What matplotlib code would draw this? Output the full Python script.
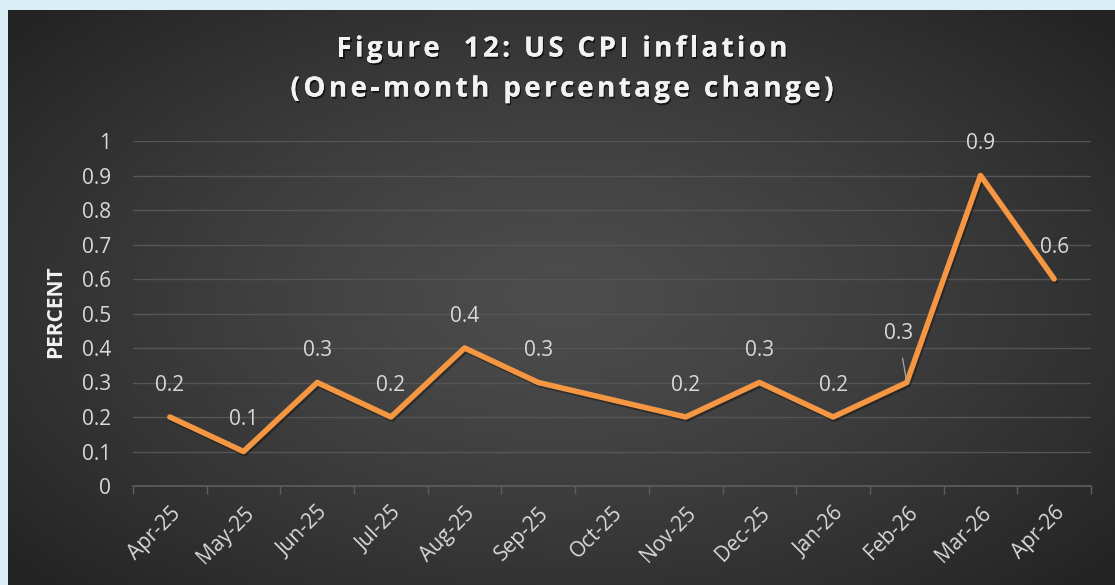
import numpy as np
import matplotlib
matplotlib.use('Agg')
import matplotlib.pyplot as plt
import matplotlib.patheffects as pe
from matplotlib.font_manager import FontProperties
from matplotlib.ticker import FixedLocator

# ── data ────────────────────────────────────────────────────────────────
months = ["Apr-25", "May-25", "Jun-25", "Jul-25", "Aug-25", "Sep-25", "Oct-25",
          "Nov-25", "Dec-25", "Jan-26", "Feb-26", "Mar-26", "Apr-26"]
cpi_mom = [0.2, 0.1, 0.3, 0.2, 0.4, 0.3, np.nan, 0.2, 0.3, 0.2, 0.3, 0.9, 0.6]
yticks = [0, 0.1, 0.2, 0.3, 0.4, 0.5, 0.6, 0.7, 0.8, 0.9, 1]

title1 = "Figure  12: US CPI inflation"
title2 = "(One-month percentage change)"

FONT = "Open Sans"
TXT = "#d9d9d9"
ORANGE = "#F59642"
FS = 15

W, H = 1115, 585
fig = plt.figure(figsize=(W / 100, H / 100), dpi=100)
fig.patch.set_facecolor("#DAEEF5")

# dark panel with radial gradient
bg = fig.add_axes([8 / W, 0, 1 - 8 / W, 1 - 10 / H])
bg.set_axis_off()
gx, gy = np.meshgrid(np.linspace(-1, 1, 400), np.linspace(-1, 1, 220))
r = np.clip(np.sqrt((gx / 1.05) ** 2 + (gy / 1.15) ** 2), 0, 1.25)
shade = 0.30 - 0.16 * (r / 1.25) ** 1.3
bg.imshow(np.dstack([shade] * 3), aspect="auto", extent=[0, 1, 0, 1],
          interpolation="bilinear")
bg.set_zorder(0)

# plot area
ax = fig.add_axes([133 / W, 1 - 486 / H, (1091 - 133) / W, (486 - 141) / H])
ax.set_zorder(1)
ax.patch.set_alpha(0)

x = np.arange(len(months))
y = np.array(cpi_mom, dtype=float)
ok = ~np.isnan(y)
ax.plot(x[ok], y[ok], color=ORANGE, lw=4, solid_joinstyle="round",
        solid_capstyle="round", zorder=3,
        path_effects=[pe.SimpleLineShadow(offset=(1, -1.5), alpha=0.35), pe.Normal()])

for xi, yi in zip(x[ok], y[ok]):
    if months[xi] == "Feb-26":
        ax.annotate(f"{yi:g}", (xi, yi), xytext=(-6, 35), textcoords="offset points",
                    ha="center", va="center", color=TXT, fontsize=FS, family=FONT,
                    arrowprops=dict(arrowstyle="-", color="#a6a6a6", lw=0.9,
                                    shrinkA=8, shrinkB=1))
    else:
        ax.annotate(f"{yi:g}", (xi, yi), xytext=(0, 23), textcoords="offset points",
                    ha="center", va="center", color=TXT, fontsize=FS, family=FONT)

ax.set_xlim(-0.5, len(months) - 0.5)
ax.set_ylim(0, 1)
ax.set_yticks(yticks)
ax.set_yticklabels([f"{v:g}" for v in yticks], family=FONT, fontsize=FS, color=TXT)
ax.set_xticks(x)
ax.set_xticklabels(months, rotation=45, ha="right", rotation_mode="anchor",
                   family=FONT, fontsize=FS, color=TXT)
ax.xaxis.set_minor_locator(FixedLocator(np.arange(-0.5, len(months), 1)))
ax.tick_params(axis="x", which="major", length=0, pad=12)
ax.tick_params(axis="x", which="minor", length=6, color="#5e5e5e", width=1)
ax.tick_params(axis="y", length=0, pad=16)
ax.grid(axis="y", color="#555555", lw=1)
ax.set_axisbelow(True)
for s in ["top", "right", "left"]:
    ax.spines[s].set_visible(False)
ax.spines["bottom"].set_color("#5e5e5e")
ax.spines["bottom"].set_linewidth(1.2)

fig.text(56 / W, 1 - 312 / H, "PERCENT", rotation=90, ha="center", va="center",
         color="#f2f2f2", fontsize=15, fontweight="bold", family=FONT)


# title with letter spacing, drawn char by char
def spaced_text(s, xc, yc, target_w, size):
    prop = FontProperties(family=FONT, weight="bold", size=size)
    rend = fig.canvas.get_renderer()
    bar = rend.get_text_width_height_descent("|", prop, ismath=False)[0]
    def wid(t):
        return rend.get_text_width_height_descent(t + "|", prop, ismath=False)[0] - bar
    natural = wid(s)
    gap = (target_w - natural) / (len(s) - 1)
    x0 = xc - target_w / 2
    shadow = [pe.withSimplePatchShadow(offset=(1, -1.5), shadow_rgbFace="black", alpha=0.6),
              pe.Normal()]
    for i, ch in enumerate(s):
        if ch == " ":
            continue
        px = x0 + wid(s[:i]) + i * gap
        fig.text(px / W, 1 - yc / H, ch, ha="left", va="center", color="#f2f2f2",
                 fontproperties=prop, path_effects=shadow)


spaced_text(title1, 562, 49, 451, 20)
spaced_text(title2, 562, 89, 543, 20)

fig.savefig("out.png", dpi=100)
